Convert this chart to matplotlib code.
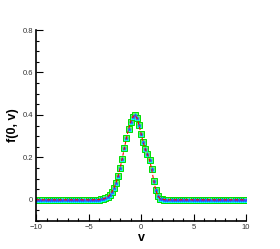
import numpy as np
from matplotlib import pyplot as plt
from matplotlib.ticker import MultipleLocator

plt.rcParams['font.family'] = ['Liberation Sans', 'DejaVu Sans']

# velocity grid, dv = 0.2
v = np.linspace(-10, 10, 101)

# f(0, v) (non-zero part from v = -4.4 to 2.2)
f_core = [0.001, 0.001, 0.001, 0.002, 0.004, 0.008, 0.014, 0.022, 0.036,
          0.054, 0.079, 0.111, 0.150, 0.194, 0.242, 0.290, 0.333, 0.368,
          0.391, 0.399, 0.385, 0.352, 0.310, 0.270, 0.238, 0.214, 0.188,
          0.145, 0.090, 0.045, 0.018, 0.006, 0.002, 0.001]
f_ref = [0.0] * 28 + f_core + [0.0] * 39

# the three solutions lie on top of each other
f_square = f_ref
f_delta = f_ref
f_star = f_ref

fig = plt.figure(figsize=(2.8, 2.49), dpi=100)
ax = fig.add_axes([0.129, 0.1124, 0.75, 0.7671])

ax.plot(v, f_square, linestyle='none', marker='s', markersize=3.9,
        markerfacecolor='#66ff66', markeredgecolor='#00dd00', markeredgewidth=0.7)
ax.plot(v, f_delta, linestyle='none', marker='^', markersize=3.0,
        markerfacecolor='#00ffff', markeredgecolor='#00ffff', markeredgewidth=0.4)
ax.plot(v, f_star, linestyle='none', marker='*', markersize=3.0,
        markerfacecolor='#3344ff', markeredgecolor='#3344ff', markeredgewidth=0.2)
ax.plot(v, f_ref, color='red', linestyle='--', linewidth=0.8, dashes=(3, 2))

ax.set_xlim(-10, 10)
ax.set_ylim(-0.1, 0.8)
ax.xaxis.set_major_locator(MultipleLocator(5))
ax.xaxis.set_minor_locator(MultipleLocator(1))
ax.yaxis.set_major_locator(MultipleLocator(0.2))
ax.yaxis.set_minor_locator(MultipleLocator(0.05))
ax.set_yticks([0, 0.2, 0.4, 0.6, 0.8], ['0', '0.2', '0.4', '0.6', '0.8'])

ax.spines['top'].set_visible(False)
ax.spines['right'].set_visible(False)
for s in ('left', 'bottom'):
    ax.spines[s].set_linewidth(1.2)

ax.tick_params(which='both', direction='in', labelsize=5.5, labelcolor='#333333',
               width=0.8, pad=2)
ax.tick_params(which='major', length=5)
ax.tick_params(which='minor', length=2.5)

ax.set_xlabel('v', fontsize=9, fontweight='bold', labelpad=1)
ax.set_ylabel('f(0, v)', fontsize=9, fontweight='bold', labelpad=3)

fig.savefig('out.png', dpi=100)
